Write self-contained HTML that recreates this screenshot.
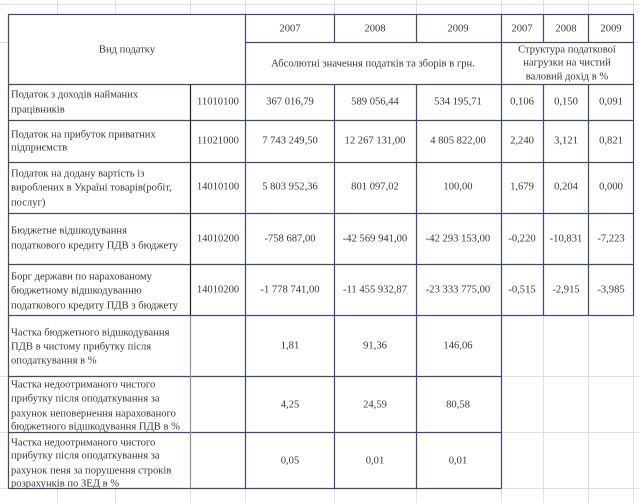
<!DOCTYPE html>
<html><head><meta charset="utf-8"><style>
html,body{margin:0;padding:0;background:#fff;width:639px;height:503px;overflow:hidden}
svg text{font-family:"Liberation Serif","DejaVu Serif",serif;font-size:10.6px;fill:#3a3a3a;dominant-baseline:middle}
.c{text-anchor:middle}
</style></head><body>
<svg width="639" height="503" xmlns="http://www.w3.org/2000/svg">
<g stroke="#dde2ea" stroke-width="1">
<line x1="57.5" y1="0" x2="57.5" y2="503"/><line x1="115.5" y1="0" x2="115.5" y2="503"/>
<line x1="190.5" y1="0" x2="190.5" y2="503"/><line x1="245.5" y1="0" x2="245.5" y2="503"/>
<line x1="334.5" y1="0" x2="334.5" y2="503"/><line x1="416.5" y1="0" x2="416.5" y2="503"/>
<line x1="501.5" y1="0" x2="501.5" y2="503"/><line x1="543.5" y1="0" x2="543.5" y2="503"/>
<line x1="588.5" y1="0" x2="588.5" y2="503"/><line x1="633.5" y1="0" x2="633.5" y2="503"/>
<line x1="0" y1="4.5" x2="639" y2="4.5"/><line x1="0" y1="42.5" x2="639" y2="42.5"/>
<line x1="0" y1="376.5" x2="639" y2="376.5"/><line x1="0" y1="432.5" x2="639" y2="432.5"/>
<line x1="0" y1="488.5" x2="639" y2="488.5"/>
</g>
<rect x="8" y="14" width="626" height="302" fill="#fff"/>
<rect x="8" y="315" width="494" height="174" fill="#fff"/>
<g stroke="#3b4a78" stroke-width="1.2" fill="none">
<rect x="8.5" y="14.5" width="625" height="301"/>
<line x1="8.5" y1="315.5" x2="8.5" y2="488.5"/>
<line x1="8.5" y1="488.5" x2="501.5" y2="488.5"/>
<line x1="245.5" y1="14.5" x2="245.5" y2="488.5"/>
<line x1="334.5" y1="14.5" x2="334.5" y2="42.5"/>
<line x1="334.5" y1="84.5" x2="334.5" y2="488.5"/>
<line x1="416.5" y1="14.5" x2="416.5" y2="42.5"/>
<line x1="416.5" y1="84.5" x2="416.5" y2="488.5"/>
<line x1="501.5" y1="14.5" x2="501.5" y2="488.5"/>
<line x1="543.5" y1="14.5" x2="543.5" y2="42.5"/>
<line x1="543.5" y1="84.5" x2="543.5" y2="315.5"/>
<line x1="588.5" y1="14.5" x2="588.5" y2="42.5"/>
<line x1="588.5" y1="84.5" x2="588.5" y2="315.5"/>
<line x1="245.5" y1="42.5" x2="633.5" y2="42.5"/>
<line x1="8.5" y1="84.5" x2="633.5" y2="84.5"/>
<line x1="8.5" y1="120.5" x2="633.5" y2="120.5"/>
<line x1="8.5" y1="162.5" x2="633.5" y2="162.5"/>
<line x1="8.5" y1="213.5" x2="633.5" y2="213.5"/>
<line x1="8.5" y1="264.5" x2="633.5" y2="264.5"/>
<line x1="8.5" y1="376.5" x2="501.5" y2="376.5"/>
<line x1="8.5" y1="432.5" x2="501.5" y2="432.5"/>
<line x1="190.5" y1="84.5" x2="190.5" y2="315.5" stroke="#222"/>
<line x1="190.5" y1="315.5" x2="190.5" y2="488.5" stroke="#8a93ad"/>
</g>
<text class="c" x="127" y="50">Вид податку</text>
<text class="c" x="290" y="29">2007</text><text class="c" x="375" y="29">2008</text><text class="c" x="458" y="29">2009</text>
<text class="c" x="522" y="29">2007</text><text class="c" x="566" y="29">2008</text><text class="c" x="611" y="29">2009</text>
<text class="c" x="373" y="64">Абсолютні значення податків та зборів в грн.</text>
<text class="c" x="567" y="50">Структура податкової</text>
<text class="c" x="567" y="63">нагрузки на чистий</text>
<text class="c" x="567" y="77">валовий дохід в %</text>

<text x="11" y="95">Податок з доходів найманих</text><text x="11" y="110">працівників</text>
<text class="c" x="218" y="102">11010100</text><text class="c" x="290" y="102">367 016,79</text><text class="c" x="375" y="102">589 056,44</text><text class="c" x="458" y="102">534 195,71</text>
<text class="c" x="522" y="102">0,106</text><text class="c" x="566" y="102">0,150</text><text class="c" x="611" y="102">0,091</text>

<text x="11" y="135">Податок на прибуток приватних</text><text x="11" y="148">підприємств</text>
<text class="c" x="218" y="141">11021000</text><text class="c" x="290" y="141">7 743 249,50</text><text class="c" x="375" y="141">12 267 131,00</text><text class="c" x="458" y="141">4 805 822,00</text>
<text class="c" x="522" y="141">2,240</text><text class="c" x="566" y="141">3,121</text><text class="c" x="611" y="141">0,821</text>

<text x="11" y="174">Податок на додану вартість із</text><text x="11" y="188">вироблених в Україні товарів(робіт,</text><text x="11" y="203">послуг)</text>
<text class="c" x="218" y="187">14010100</text><text class="c" x="290" y="187">5 803 952,36</text><text class="c" x="375" y="187">801 097,02</text><text class="c" x="458" y="187">100,00</text>
<text class="c" x="522" y="187">1,679</text><text class="c" x="566" y="187">0,204</text><text class="c" x="611" y="187">0,000</text>

<text x="11" y="231">Бюджетне відшкодування</text><text x="11" y="246">податкового кредиту ПДВ  з бюджету</text>
<text class="c" x="218" y="239">14010200</text><text class="c" x="290" y="239">-758 687,00</text><text class="c" x="375" y="239">-42 569 941,00</text><text class="c" x="458" y="239">-42 293 153,00</text>
<text class="c" x="522" y="239">-0,220</text><text class="c" x="566" y="239">-10,831</text><text class="c" x="611" y="239">-7,223</text>

<text x="11" y="277">Борг держави по нарахованому</text><text x="11" y="291">бюджетному відшкодуванню</text><text x="11" y="306">податкового кредиту ПДВ  з бюджету</text>
<text class="c" x="218" y="290">14010200</text><text class="c" x="290" y="290">-1 778 741,00</text><text class="c" x="375" y="290">-11 455 932,87</text><text class="c" x="458" y="290">-23 333 775,00</text>
<text class="c" x="522" y="290">-0,515</text><text class="c" x="566" y="290">-2,915</text><text class="c" x="611" y="290">-3,985</text>

<text x="11" y="333">Частка бюджетного відшкодування</text><text x="11" y="347">ПДВ в чистому прибутку після</text><text x="11" y="361">оподаткування в %</text>
<text class="c" x="290" y="346">1,81</text><text class="c" x="375" y="346">91,36</text><text class="c" x="458" y="346">146,06</text>

<text x="11" y="385">Частка недоотриманого чистого</text><text x="11" y="399">прибутку після оподаткування за</text><text x="11" y="414">рахунок неповернення нарахованого</text><text x="11" y="427">бюджетного відшкодування ПДВ  в %</text>
<text class="c" x="290" y="405">4,25</text><text class="c" x="375" y="405">24,59</text><text class="c" x="458" y="405">80,58</text>

<text x="11" y="443">Частка недоотриманого чистого</text><text x="11" y="456">прибутку після оподаткування за</text><text x="11" y="471">рахунок пеня за порушення строків</text><text x="11" y="484">розрахунків по ЗЕД  в %</text>
<text class="c" x="290" y="461">0,05</text><text class="c" x="375" y="461">0,01</text><text class="c" x="458" y="461">0,01</text>
</svg>
</body></html>
